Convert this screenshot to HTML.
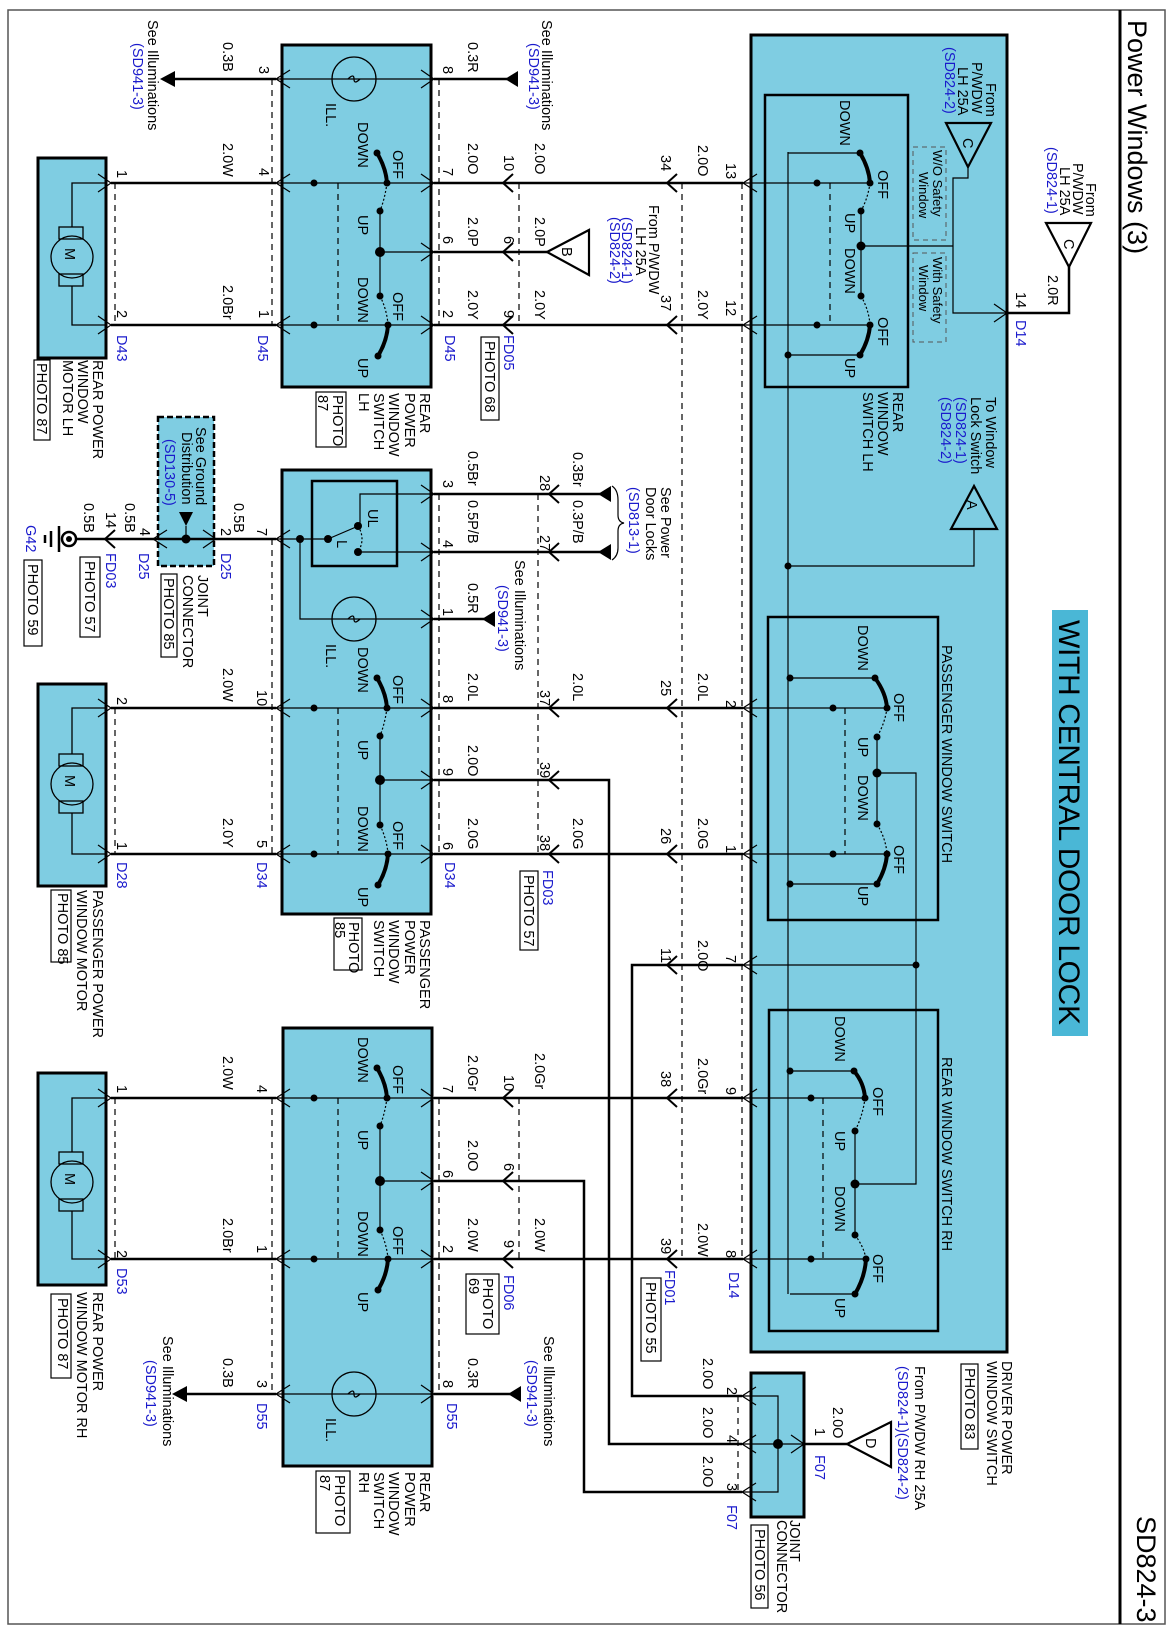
<!DOCTYPE html>
<html><head><meta charset="utf-8"><style>
html,body{margin:0;padding:0;background:#fff}
svg{display:block}
text{font-family:"Liberation Sans",sans-serif;font-size:14.5px;fill:#000}
.b{fill:#1a1acc}
.w{stroke:#000;stroke-width:2.5;fill:none}
.t{stroke:#000;stroke-width:1.2;fill:none}
.a{stroke:#000;stroke-width:4;fill:none;stroke-linecap:round}
.d{stroke:#000;stroke-width:1.2;fill:none;stroke-dasharray:6,5}
.o{stroke:#000;stroke-width:1.2;fill:none;stroke-dasharray:2,2}
.c{stroke:#000;stroke-width:1.3;fill:none}
.blue{fill:#7fcde2;stroke:#000;stroke-width:3}
.pb{fill:#fff;stroke:#000;stroke-width:1.2}
</style></head><body>
<svg width="1174" height="1634" viewBox="0 0 1174 1634" xmlns="http://www.w3.org/2000/svg">
<rect x="8" y="10" width="1157" height="1614" fill="none" stroke="#555" stroke-width="1.5"/>
<line x1="1120" y1="10" x2="1120" y2="1624" stroke="#000" stroke-width="3"/>

<rect class="blue" x="751" y="35" width="256" height="1317"/>
<rect x="765" y="95" width="143" height="292" fill="none" stroke="#000" stroke-width="2.5"/>
<rect x="768" y="617" width="170" height="303" fill="none" stroke="#000" stroke-width="2.5"/>
<rect x="769" y="1010" width="169" height="321" fill="none" stroke="#000" stroke-width="2.5"/>
<rect x="1052" y="610" width="36" height="426" fill="#4ab7d6"/>
<rect class="blue" x="282" y="45" width="149" height="342"/>
<rect class="blue" x="282" y="470" width="149" height="444"/>
<rect x="312" y="481" width="85" height="85" fill="none" stroke="#000" stroke-width="2.5"/>
<rect class="blue" x="283" y="1028" width="149" height="438"/>
<rect class="blue" x="38" y="158" width="68" height="200"/>
<rect class="blue" x="38" y="684" width="68" height="202"/>
<rect class="blue" x="38" y="1073" width="68" height="212"/>
<rect x="158" y="417" width="56" height="149" fill="#7fcde2" stroke="#000" stroke-width="2.5" stroke-dasharray="6,3"/>
<rect class="blue" x="751" y="1373" width="53" height="144"/>

<g class="c">
<circle cx="72" cy="257" r="21"/><rect x="59" y="227" width="24" height="12"/><rect x="59" y="274" width="24" height="12"/>
<path d="M106,183 L72,183 L72,227 M72,286 L72,325 L106,325"/>
<circle cx="72" cy="784" r="21"/><rect x="59" y="754" width="24" height="12"/><rect x="59" y="801" width="24" height="12"/>
<path d="M106,708 L72,708 L72,754 M72,813 L72,854 L106,854"/>
<circle cx="72" cy="1182" r="21"/><rect x="59" y="1152" width="24" height="12"/><rect x="59" y="1199" width="24" height="12"/>
<path d="M106,1098 L72,1098 L72,1152 M72,1211 L72,1259 L106,1259"/>
</g>

<g class="w">
<path d="M172,79 L276,79 M434,79 L507,79"/>
<path d="M111,183 L276,183 M434,183 L743,183"/>
<path d="M111,325 L276,325 M434,325 L743,325"/>
<path d="M434,252 L547,252"/>
<path d="M434,494 L600,494 M434,552 L600,552 M434,619 L484,619"/>
<path d="M76,539 L276,539"/>
<path d="M111,708 L276,708 M434,708 L743,708"/>
<path d="M434,780 L609,780 L609,1444 L742,1444"/>
<path d="M111,854 L276,854 M434,854 L743,854"/>
<path d="M743,965 L632,965 L632,1396 L742,1396"/>
<path d="M111,1098 L276,1098 M434,1098 L743,1098"/>
<path d="M434,1181 L584,1181 L584,1492 L742,1492"/>
<path d="M111,1259 L276,1259 M434,1259 L743,1259"/>
<path d="M184,1394 L276,1394 M434,1394 L510,1394"/>
<path d="M804,1444 L847,1444"/>
<path d="M1007,313 L1069,313 L1069,267"/>
</g>
<g fill="#000">
<polygon points="160,79 175,71 175,87"/><polygon points="505,79 518,71 518,87"/>
<polygon points="598,494 611,486 611,502"/><polygon points="598,552 611,544 611,560"/>
<polygon points="482,619 495,611 495,627"/>
<polygon points="172,1394 187,1386 187,1402"/><polygon points="508,1394 521,1386 521,1402"/>
<polygon points="179,512 193,512 186,526"/>
</g>
<path class="t" d="M612,486 Q618,490 618,500 L618,515 Q618,522 624,523 Q618,524 618,531 L618,548 Q618,556 612,560"/>
<g fill="#7fcde2" stroke="#000" stroke-width="2.2">
<polygon points="547,252 589,230 589,275" fill="#fff"/>
<polygon points="1069,267 1046,223 1091,223" fill="#fff"/>
<polygon points="968,167 946,123 991,123"/>
<polygon points="974,486 951,529 997,529"/>
<polygon points="847,1444 891,1422 891,1467" fill="#fff"/>
</g>

<circle cx="69" cy="539" r="7" fill="#fff" stroke="#000" stroke-width="2.5"/><circle cx="69" cy="539" r="3" fill="#000"/>
<path d="M59,526 L59,552 M51,531 L51,547 M45,535 L45,543" stroke="#000" stroke-width="2.5"/>

<g class="t">
<path d="M276,79 L434,79 M276,183 L434,183 M276,325 L434,325 M380,252 L434,252"/>
<path d="M276,708 L434,708 M276,854 L434,854 M380,780 L434,780"/>
<path d="M276,1098 L434,1098 M276,1259 L434,1259 M276,1394 L434,1394 M380,1181 L434,1181"/>
<path d="M434,494 L360,494 L360,526 M434,552 L358,552 M276,539 L328,539 M328,539 L356,527 M434,619 L300,619 L300,539"/>
<path d="M153,539 L216,539 M186,526 L186,539"/>
<path d="M743,183 L870,183 M743,325 L870,325 M743,708 L887,708 M743,854 L887,854 M743,1098 L865,1098 M743,1259 L866,1259 M743,965 L916,965"/>
<path d="M788,152 L788,1294"/>
<path d="M974,529 L974,566 L788,566"/>
<path d="M968,167 L968,178 L953,178 L953,313 L1007,313 M861,246 L953,246"/>
<path d="M877,773 L916,773 L916,1184 L855,1184"/>
<path d="M742,1396 L778,1396 L778,1492 L742,1492 M742,1444 L804,1444"/>
</g>
<rect x="913" y="147" width="33" height="93" fill="none" stroke="#555" stroke-width="1" stroke-dasharray="5,4"/>
<rect x="913" y="253" width="33" height="89" fill="none" stroke="#555" stroke-width="1" stroke-dasharray="5,4"/>

<g class="c">
<circle cx="354" cy="79" r="22"/><path d="M348,79 q6,-6 6,0 q0,6 6,0"/>
<circle cx="354" cy="619" r="22"/><path d="M348,619 q6,-6 6,0 q0,6 6,0"/>
<circle cx="354" cy="1394" r="22"/><path d="M348,1394 q6,-6 6,0 q0,6 6,0"/>
</g>

<g class="d">
<path d="M272,79 L272,325 M439,79 L439,325 M115,183 L115,325 M519,183 L519,325"/>
<path d="M682,183 L682,1259 M742,183 L742,1259"/>
<path d="M272,539 L272,854 M439,494 L439,854 M538,494 L538,854 M115,708 L115,854"/>
<path d="M272,1098 L272,1394 M439,1098 L439,1394 M519,1098 L519,1259 M115,1098 L115,1259 M738,1396 L738,1492"/>
<path d="M338,183 L338,325 M338,708 L338,854 M338,1098 L338,1259 M830,183 L830,325 M845,708 L845,854 M823,1098 L823,1259"/>
</g>

<g class="t" stroke-width="1.3">
<path d="M290,70 L276,79 L290,88 M290,174 L276,183 L290,192 M290,316 L276,325 L290,334 M290,530 L276,539 L290,548 M290,699 L276,708 L290,717 M290,845 L276,854 L290,863 M290,1089 L276,1098 L290,1107 M290,1250 L276,1259 L290,1268 M290,1385 L276,1394 L290,1403"/>
<path d="M421,70 L434,79 L421,88 M421,174 L434,183 L421,192 M421,243 L434,252 L421,261 M421,316 L434,325 L421,334 M421,485 L434,494 L421,503 M421,543 L434,552 L421,561 M421,610 L434,619 L421,628 M421,699 L434,708 L421,717 M421,771 L434,780 L421,789 M421,845 L434,854 L421,863 M421,1089 L434,1098 L421,1107 M421,1172 L434,1181 L421,1190 M421,1250 L434,1259 L421,1268 M421,1385 L434,1394 L421,1403"/>
<path d="M98,174 L111,183 L98,192 M98,316 L111,325 L98,334 M98,699 L111,708 L98,717 M98,845 L111,854 L98,863 M98,1089 L111,1098 L98,1107 M98,1250 L111,1259 L98,1268"/>
<path d="M757,174 L743,183 L757,192 M757,316 L743,325 L757,334 M757,699 L743,708 L757,717 M757,845 L743,854 L757,863 M757,956 L743,965 L757,974 M757,1089 L743,1098 L757,1107 M757,1250 L743,1259 L757,1268 M994,304 L1007,313 L994,322"/>
<path d="M756,1387 L742,1396 L756,1405 M756,1435 L742,1444 L756,1453 M756,1483 L742,1492 L756,1501 M791,1435 L804,1444 L791,1453"/>
<path d="M167,530 L153,539 L167,548 M203,530 L216,539 L203,548"/>
</g>
<g stroke="#000" stroke-width="2" fill="none">
<path d="M513,174 L503,183 L513,192 M513,243 L503,252 L513,261 M513,316 L503,325 L513,334"/>
<path d="M513,1089 L503,1098 L513,1107 M513,1172 L503,1181 L513,1190 M513,1250 L503,1259 L513,1268"/>
<path d="M559,485 L549,494 L559,503 M559,543 L549,552 L559,561 M559,699 L549,708 L559,717 M559,771 L549,780 L559,789 M559,845 L549,854 L559,863"/>
<path d="M677,174 L667,183 L677,192 M677,316 L667,325 L677,334 M677,699 L667,708 L677,717 M677,845 L667,854 L677,863 M677,956 L667,965 L677,974 M677,1089 L667,1098 L677,1107 M677,1250 L667,1259 L677,1268"/>
<path d="M115,530 L105,539 L115,548"/>
</g>

<g>
<path class="a" d="M387,183 Q386,168 377,153 M388,325 Q387,341 378,356"/>
<path class="t" d="M380,211 L380,296"/>
<path class="o" d="M387,183 Q385,198 380,211 M380,296 Q387,310 388,325"/>
<path class="a" d="M387,708 Q386,693 377,678 M388,854 Q387,870 378,885"/>
<path class="t" d="M380,736 L380,825"/>
<path class="o" d="M387,708 Q385,723 380,736 M380,825 Q387,840 388,854"/>
<path class="a" d="M387,1098 Q386,1083 377,1068 M388,1259 Q387,1275 378,1290"/>
<path class="t" d="M380,1126 L380,1230"/>
<path class="o" d="M387,1098 Q385,1113 380,1126 M380,1230 Q387,1245 388,1259"/>
<path class="o" d="M358,526 Q366,539 358,552"/>
</g>
<g>
<path class="t" d="M788,153 L860,153 M860,355 L788,355 M861,211 L861,296"/>
<path class="a" d="M870,183 Q869,168 860,153 M870,325 Q869,340 860,355"/>
<path class="o" d="M870,183 Q868,198 861,211 M861,296 Q869,310 870,325"/>
<path class="t" d="M790,678 L875,678 M875,884 L790,884 M877,737 L877,824"/>
<path class="a" d="M887,708 Q886,693 875,678 M887,854 Q886,869 877,884"/>
<path class="o" d="M887,708 Q885,723 877,737 M877,824 Q886,839 887,854"/>
<path class="t" d="M790,1071 L854,1071 M855,1294 L790,1294 M855,1131 L855,1235"/>
<path class="a" d="M865,1098 Q864,1083 854,1071 M866,1259 Q865,1277 855,1294"/>
<path class="o" d="M865,1098 Q863,1115 855,1131 M855,1235 Q864,1247 866,1259"/>
</g>
<g fill="#000">
<circle cx="377" cy="153" r="3.5"/><circle cx="387" cy="183" r="3.5"/><circle cx="314" cy="183" r="3.5"/><circle cx="314" cy="325" r="3.5"/><circle cx="380" cy="211" r="3.5"/><circle cx="380" cy="252" r="5"/><circle cx="380" cy="296" r="3.5"/><circle cx="388" cy="325" r="3.5"/><circle cx="378" cy="356" r="3.5"/>
<circle cx="377" cy="678" r="3.5"/><circle cx="387" cy="708" r="3.5"/><circle cx="314" cy="708" r="3.5"/><circle cx="314" cy="854" r="3.5"/><circle cx="380" cy="736" r="3.5"/><circle cx="380" cy="780" r="5"/><circle cx="380" cy="825" r="3.5"/><circle cx="388" cy="854" r="3.5"/><circle cx="378" cy="885" r="3.5"/>
<circle cx="377" cy="1068" r="3.5"/><circle cx="387" cy="1098" r="3.5"/><circle cx="314" cy="1098" r="3.5"/><circle cx="314" cy="1259" r="3.5"/><circle cx="380" cy="1126" r="3.5"/><circle cx="380" cy="1181" r="5"/><circle cx="380" cy="1230" r="3.5"/><circle cx="388" cy="1259" r="3.5"/><circle cx="378" cy="1290" r="3.5"/>
<circle cx="358" cy="526" r="4"/><circle cx="358" cy="552" r="4"/><circle cx="328" cy="539" r="4"/><circle cx="300" cy="539" r="4"/><circle cx="186" cy="539" r="4.5"/>
<circle cx="860" cy="153" r="3.5"/><circle cx="870" cy="183" r="3.5"/><circle cx="817" cy="183" r="3.5"/><circle cx="861" cy="211" r="3.5"/><circle cx="861" cy="246" r="4.5"/><circle cx="861" cy="296" r="3.5"/><circle cx="870" cy="325" r="3.5"/><circle cx="860" cy="355" r="3.5"/><circle cx="788" cy="355" r="3.5"/><circle cx="817" cy="325" r="3.5"/>
<circle cx="788" cy="566" r="3.5"/>
<circle cx="875" cy="678" r="3.5"/><circle cx="790" cy="678" r="3.5"/><circle cx="887" cy="708" r="3.5"/><circle cx="833" cy="708" r="3.5"/><circle cx="877" cy="737" r="3.5"/><circle cx="877" cy="773" r="4.5"/><circle cx="877" cy="824" r="3.5"/><circle cx="887" cy="854" r="3.5"/><circle cx="833" cy="854" r="3.5"/><circle cx="877" cy="884" r="3.5"/><circle cx="790" cy="884" r="3.5"/>
<circle cx="916" cy="965" r="3.5"/>
<circle cx="854" cy="1071" r="3.5"/><circle cx="790" cy="1071" r="3.5"/><circle cx="865" cy="1098" r="3.5"/><circle cx="811" cy="1098" r="3.5"/><circle cx="855" cy="1131" r="3.5"/><circle cx="855" cy="1184" r="4.5"/><circle cx="855" cy="1235" r="3.5"/><circle cx="866" cy="1259" r="3.5"/><circle cx="811" cy="1259" r="3.5"/><circle cx="855" cy="1294" r="3.5"/>
<circle cx="778" cy="1444" r="5"/>
</g>

<g class="pb">
<rect x="481" y="337" width="18" height="83"/><rect x="316" y="392" width="30" height="55"/><rect x="34" y="360" width="16" height="80"/>
<rect x="24" y="560" width="18" height="86"/><rect x="80" y="557" width="20" height="80"/><rect x="161" y="574" width="16" height="83"/>
<rect x="520" y="871" width="18" height="79"/><rect x="334" y="918" width="28" height="52"/><rect x="51" y="890" width="20" height="72"/>
<rect x="641" y="1278" width="20" height="83"/><rect x="466" y="1274" width="33" height="60"/><rect x="316" y="1471" width="34" height="62"/><rect x="51" y="1294" width="20" height="84"/>
<rect x="961" y="1364" width="17" height="85"/><rect x="751" y="1525" width="17" height="83"/>
</g>

<g transform="rotate(90)">
<text x="20" y="-1128" style="font-size:27px">Power Windows (3)</text>
<text x="1516" y="-1137" style="font-size:27px">SD824-3</text>
<text x="620" y="-1059" style="font-size:30px" textLength="405">WITH CENTRAL DOOR LOCK</text>

<text x="248" y="-65">M</text><text x="775" y="-65">M</text><text x="1173" y="-65">M</text>
<text x="247" y="-562">B</text><text x="138" y="-963">C</text><text x="239" y="-1064">C</text><text x="500" y="-967">A</text><text x="1438" y="-866">D</text>

<text x="20" y="-148">See Illuminations</text><text x="43" y="-133" class="b">(SD941-3)</text>
<text x="42" y="-223">0.3B</text><text x="66" y="-259">3</text>
<text x="143" y="-223">2.0W</text><text x="168" y="-259">4</text><text x="170" y="-117">1</text>
<text x="285" y="-223">2.0Br</text><text x="310" y="-259">1</text><text x="310" y="-117">2</text>
<text x="335" y="-117" class="b">D43</text><text x="335" y="-258" class="b">D45</text><text x="335" y="-445" class="b">D45</text>
<text x="66" y="-443">8</text><text x="42" y="-468">0.3R</text>
<text x="168" y="-443">7</text><text x="143" y="-468">2.0O</text>
<text x="236" y="-443">6</text><text x="217" y="-468">2.0P</text>
<text x="310" y="-443">2</text><text x="290" y="-468">2.0Y</text>
<text x="20" y="-542">See Illuminations</text><text x="43" y="-529" class="b">(SD941-3)</text>
<text x="143" y="-535">2.0O</text><text x="155" y="-504">10</text>
<text x="217" y="-535">2.0P</text><text x="236" y="-504">6</text>
<text x="290" y="-535">2.0Y</text><text x="310" y="-504">9</text>
<text x="335" y="-504" class="b">FD05</text><text x="341" y="-485">PHOTO 68</text>
<text x="393" y="-420">REAR</text><text x="393" y="-405">POWER</text><text x="393" y="-389">WINDOW</text><text x="393" y="-374">SWITCH</text><text x="393" y="-359">LH</text>
<text x="395" y="-333">PHOTO</text><text x="395" y="-318">87</text>
<text x="360" y="-93">REAR POWER</text><text x="360" y="-78">WINDOW</text><text x="360" y="-63">MOTOR LH</text><text x="363" y="-37">PHOTO 87</text>
<text x="122" y="-358">DOWN</text><text x="150" y="-393">OFF</text><text x="215" y="-358">UP</text><text x="277" y="-358">DOWN</text><text x="292" y="-393">OFF</text><text x="358" y="-358">UP</text>
<text x="103" y="-326">ILL.</text>

<text x="163" y="-726">13</text><text x="145" y="-698">2.0O</text><text x="155" y="-661">34</text>
<text x="300" y="-726">12</text><text x="290" y="-698">2.0Y</text><text x="295" y="-661">37</text>
<text x="205" y="-649">From P/WDW</text><text x="227" y="-636">LH 25A</text><text x="217" y="-622" class="b">(SD824-1)</text><text x="217" y="-610" class="b">(SD824-2)</text>
<text x="83" y="-986">From</text><text x="62" y="-972">P/WDW</text><text x="67" y="-958">LH 25A</text><text x="47" y="-945" class="b">(SD824-2)</text>
<text x="150" y="-933" style="font-size:13px">W/O Safety</text><text x="172" y="-919" style="font-size:13px">Window</text>
<text x="257" y="-933" style="font-size:13px">With Safety</text><text x="265" y="-919" style="font-size:13px">Window</text>
<text x="183" y="-1086">From</text><text x="163" y="-1073">P/WDW</text><text x="167" y="-1060">LH 25A</text><text x="147" y="-1047" class="b">(SD824-1)</text>
<text x="275" y="-1048">2.0R</text><text x="292" y="-1016">14</text><text x="320" y="-1016" class="b">D14</text>
<text x="392" y="-893">REAR</text><text x="392" y="-878">WINDOW</text><text x="392" y="-863">SWITCH LH</text>
<text x="397" y="-986">To Window</text><text x="397" y="-971">Lock Switch</text><text x="397" y="-956" class="b">(SD824-1)</text><text x="397" y="-941" class="b">(SD824-2)</text>
<text x="100" y="-840">DOWN</text><text x="170" y="-878">OFF</text><text x="213" y="-845">UP</text><text x="248" y="-845">DOWN</text><text x="317" y="-878">OFF</text><text x="358" y="-845">UP</text>

<text x="427" y="-196">See Ground</text><text x="432" y="-182">Distribution</text><text x="439" y="-165" class="b">(SD130-5)</text>
<text x="503" y="-234">0.5B</text><text x="528" y="-257">7</text><text x="528" y="-221">2</text><text x="553" y="-221" class="b">D25</text>
<text x="528" y="-140">4</text><text x="503" y="-125">0.5B</text><text x="512" y="-106">14</text><text x="503" y="-84">0.5B</text>
<text x="553" y="-139" class="b">D25</text><text x="553" y="-106" class="b">FD03</text><text x="525" y="-26" class="b">G42</text>
<text x="564" y="-28">PHOTO 59</text><text x="561" y="-85">PHOTO 57</text>
<text x="575" y="-198">JOINT</text><text x="575" y="-183">CONNECTOR</text><text x="578" y="-164">PHOTO 85</text>
<text x="509" y="-368">UL</text><text x="540" y="-337">L</text>
<text x="644" y="-326">ILL.</text>
<text x="451" y="-468">0.5Br</text><text x="480" y="-443">3</text><text x="475" y="-540">28</text><text x="452" y="-573">0.3Br</text>
<text x="500" y="-468">0.5P/B</text><text x="540" y="-443">4</text><text x="535" y="-540">27</text><text x="500" y="-573">0.3P/B</text>
<text x="583" y="-468">0.5R</text><text x="608" y="-443">1</text>
<text x="560" y="-515">See Illuminations</text><text x="585" y="-498" class="b">(SD941-3)</text>
<text x="487" y="-661">See Power</text><text x="487" y="-646">Door Locks</text><text x="487" y="-629" class="b">(SD813-1)</text>
<text x="673" y="-468">2.0L</text><text x="695" y="-443">8</text><text x="690" y="-540">37</text><text x="673" y="-573">2.0L</text><text x="673" y="-698">2.0L</text><text x="680" y="-661">25</text><text x="700" y="-726">2</text>
<text x="745" y="-468">2.0O</text><text x="768" y="-443">9</text><text x="762" y="-540">39</text>
<text x="818" y="-468">2.0G</text><text x="842" y="-443">6</text><text x="835" y="-540">38</text><text x="818" y="-573">2.0G</text><text x="818" y="-698">2.0G</text><text x="828" y="-661">26</text><text x="845" y="-726">1</text>
<text x="870" y="-543" class="b">FD03</text><text x="875" y="-524">PHOTO 57</text>
<text x="668" y="-223">2.0W</text><text x="690" y="-257">10</text><text x="697" y="-117">2</text>
<text x="818" y="-223">2.0Y</text><text x="840" y="-257">5</text><text x="842" y="-117">1</text>
<text x="862" y="-117" class="b">D28</text><text x="862" y="-257" class="b">D34</text><text x="862" y="-445" class="b">D34</text>
<text x="920" y="-420">PASSENGER</text><text x="920" y="-405">POWER</text><text x="920" y="-389">WINDOW</text><text x="920" y="-374">SWITCH</text>
<text x="922" y="-349">PHOTO</text><text x="922" y="-335">85</text>
<text x="890" y="-93">PASSENGER POWER</text><text x="890" y="-77">WINDOW MOTOR</text><text x="893" y="-58">PHOTO 85</text>
<text x="647" y="-358">DOWN</text><text x="675" y="-393">OFF</text><text x="740" y="-358">UP</text><text x="806" y="-358">DOWN</text><text x="821" y="-393">OFF</text><text x="887" y="-358">UP</text>
<text x="645" y="-942">PASSENGER WINDOW SWITCH</text>
<text x="625" y="-858">DOWN</text><text x="693" y="-894">OFF</text><text x="737" y="-858">UP</text><text x="775" y="-858">DOWN</text><text x="845" y="-894">OFF</text><text x="886" y="-858">UP</text>

<text x="940" y="-698">2.0O</text><text x="948" y="-661">11</text><text x="955" y="-726">7</text>
<text x="1058" y="-698">2.0Gr</text><text x="1071" y="-661">38</text><text x="1087" y="-726">9</text>
<text x="1223" y="-698">2.0W</text><text x="1238" y="-661">39</text><text x="1250" y="-726">8</text>
<text x="1272" y="-729" class="b">D14</text><text x="1270" y="-665" class="b">FD01</text><text x="1282" y="-646">PHOTO 55</text>
<text x="1057" y="-942">REAR WINDOW SWITCH RH</text>
<text x="1016" y="-835">DOWN</text><text x="1087" y="-873">OFF</text><text x="1131" y="-835">UP</text><text x="1186" y="-835">DOWN</text><text x="1254" y="-873">OFF</text><text x="1298" y="-835">UP</text>
<text x="1358" y="-703">2.0O</text><text x="1387" y="-727">2</text>
<text x="1407" y="-703">2.0O</text><text x="1435" y="-727">4</text>
<text x="1456" y="-703">2.0O</text><text x="1483" y="-727">3</text><text x="1505" y="-727" class="b">F07</text>
<text x="1428" y="-815">1</text><text x="1407" y="-833">2.0O</text><text x="1455" y="-815" class="b">F07</text>
<text x="1366" y="-915">From P/WDW RH 25A</text><text x="1366" y="-898" class="b">(SD824-1)(SD824-2)</text>
<text x="1361" y="-1002">DRIVER POWER</text><text x="1361" y="-987">WINDOW SWITCH</text><text x="1368" y="-965">PHOTO 83</text>
<text x="1520" y="-790">JOINT</text><text x="1520" y="-777">CONNECTOR</text><text x="1529" y="-755">PHOTO 56</text>

<text x="1056" y="-223">2.0W</text><text x="1085" y="-257">4</text><text x="1085" y="-117">1</text>
<text x="1218" y="-223">2.0Br</text><text x="1245" y="-257">1</text><text x="1250" y="-117">2</text><text x="1268" y="-117" class="b">D53</text>
<text x="1358" y="-223">0.3B</text><text x="1380" y="-257">3</text><text x="1403" y="-257" class="b">D55</text>
<text x="1336" y="-163">See Illuminations</text><text x="1360" y="-146" class="b">(SD941-3)</text>
<text x="1055" y="-468">2.0Gr</text><text x="1085" y="-443">7</text><text x="1075" y="-504">10</text><text x="1053" y="-535">2.0Gr</text>
<text x="1140" y="-468">2.0O</text><text x="1170" y="-443">6</text><text x="1163" y="-504">6</text>
<text x="1218" y="-468">2.0W</text><text x="1245" y="-443">2</text><text x="1240" y="-504">9</text><text x="1218" y="-535">2.0W</text>
<text x="1275" y="-504" class="b">FD06</text><text x="1278" y="-483">PHOTO</text><text x="1278" y="-469">69</text>
<text x="1358" y="-468">0.3R</text><text x="1380" y="-443">8</text><text x="1403" y="-447" class="b">D55</text>
<text x="1336" y="-544">See Illuminations</text><text x="1360" y="-527" class="b">(SD941-3)</text>
<text x="1418" y="-326">ILL.</text>
<text x="1472" y="-420">REAR</text><text x="1472" y="-405">POWER</text><text x="1472" y="-389">WINDOW</text><text x="1472" y="-374">SWITCH</text><text x="1472" y="-359">RH</text>
<text x="1475" y="-335">PHOTO</text><text x="1475" y="-320">87</text>
<text x="1292" y="-93">REAR POWER</text><text x="1292" y="-77">WINDOW MOTOR RH</text><text x="1298" y="-58">PHOTO 87</text>
<text x="1037" y="-358">DOWN</text><text x="1065" y="-393">OFF</text><text x="1130" y="-358">UP</text><text x="1211" y="-358">DOWN</text><text x="1226" y="-393">OFF</text><text x="1292" y="-358">UP</text>
</g>
</svg>
</body></html>
